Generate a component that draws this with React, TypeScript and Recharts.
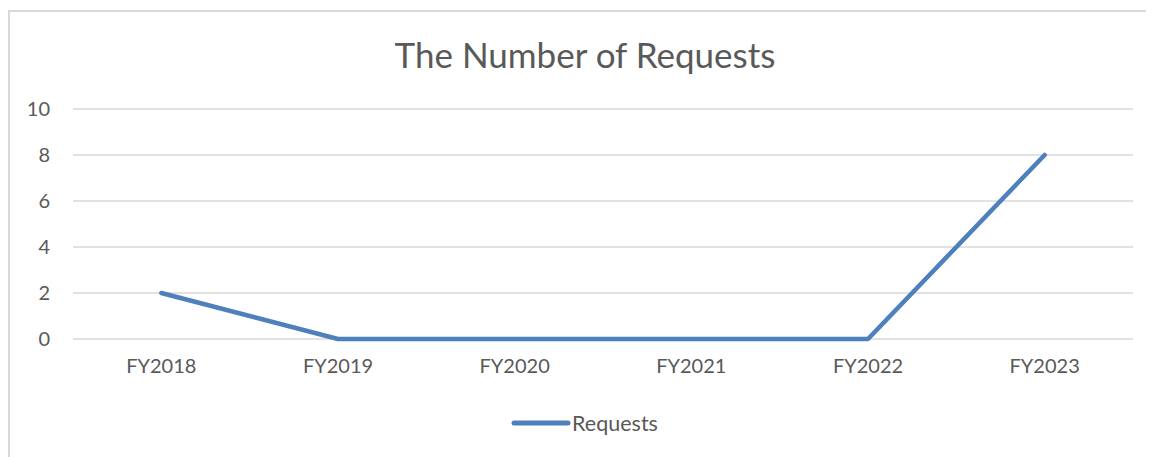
import { LineChart, Line, XAxis, YAxis, CartesianGrid, Legend } from "recharts";

const years = ["FY2018", "FY2019", "FY2020", "FY2021", "FY2022", "FY2023"];
const requests = [2, 0, 0, 0, 0, 8];
const yTicks = [0, 2, 4, 6, 8, 10];

const data = years.map((year, i) => ({ year, Requests: requests[i] }));

const FONT = "Lato, 'Open Sans', sans-serif";
const TEXT = "#595959";
const BLUE = "#4e80bd";

function LegendContent() {
  return (
    <div style={{ display: "flex", justifyContent: "center", alignItems: "center", height: 24, paddingLeft: 26 }}>
      <svg width={60} height={10}>
        <line x1={3} y1={5} x2={57} y2={5} stroke={BLUE} strokeWidth={5} strokeLinecap="round" />
      </svg>
      <span style={{ fontFamily: FONT, fontSize: 21.5, color: TEXT, marginLeft: 1 }}>Requests</span>
    </div>
  );
}

export default function App() {
  return (
    <div
      style={{
        position: "relative",
        marginTop: 2,
        width: 1146,
        height: 447,
        borderTop: "2px solid #d9d9d9",
        borderLeft: "2px solid #d9d9d9",
        boxSizing: "border-box",
        overflow: "hidden",
        background: "#fff",
      }}
    >
      <div
        style={{
          position: "absolute",
          top: 22,
          left: 0,
          width: 1150,
          textAlign: "center",
          fontFamily: FONT,
          fontSize: 35,
          lineHeight: "40px",
          color: TEXT,
        }}
      >
        The Number of Requests
      </div>
      <LineChart width={1144} height={445} data={data} margin={{ top: 97, right: 21, bottom: 22, left: 0 }}>
        <CartesianGrid vertical={false} stroke="#d9d9d9" strokeWidth={1.5} />
        <XAxis
          dataKey="year"
          scale="band"
          axisLine={false}
          tickLine={false}
          tickSize={0}
          tickMargin={20}
          height={72}
          tick={{ fill: TEXT, fontSize: 20, fontFamily: FONT }}
        />
        <YAxis
          domain={[0, 10]}
          ticks={yTicks}
          axisLine={false}
          tickLine={false}
          tickSize={0}
          tickMargin={23}
          width={63}
          tick={{ fill: TEXT, fontSize: 20, fontFamily: FONT }}
        />
        <Legend verticalAlign="bottom" height={24} content={<LegendContent />} />
        <Line
          dataKey="Requests"
          stroke={BLUE}
          strokeWidth={4.5}
          strokeLinecap="round"
          strokeLinejoin="round"
          dot={false}
          isAnimationActive={false}
        />
      </LineChart>
    </div>
  );
}
